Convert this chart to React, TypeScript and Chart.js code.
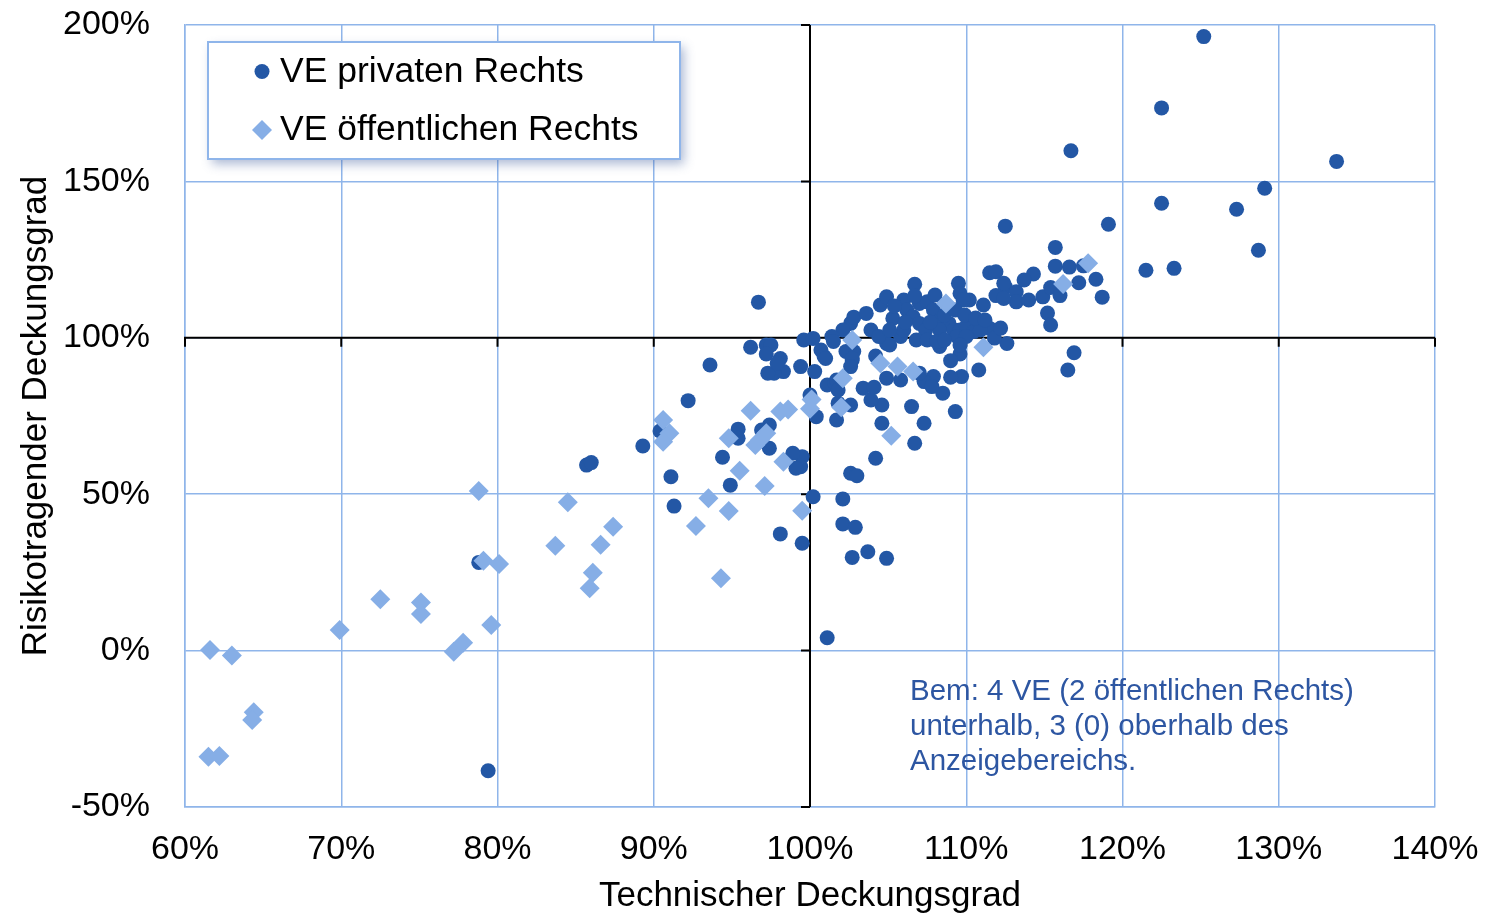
import React, { useEffect, useRef } from 'react';
import { Chart, registerables } from 'chart.js';

Chart.register(...registerables);

const FONT = '"Liberation Sans", Arial, Helvetica, sans-serif';
const GRID = '#8FB5EA';
const DARK = '#2357A5';
const LIGHT = '#86AEE6';
const NOTE = '#2D56A2';

// Axis ticks (percent values)
const xTicks = [60, 70, 80, 90, 100, 110, 120, 130, 140];
const yTicks = [-50, 0, 50, 100, 150, 200];

const xTitle = 'Technischer Deckungsgrad';
const yTitle = 'Risikotragender Deckungsgrad';
const seriesNames = ['VE privaten Rechts', 'VE öffentlichen Rechts'];
const noteLines = [
  'Bem: 4 VE (2 öffentlichen Rechts)',
  'unterhalb, 3 (0) oberhalb des',
  'Anzeigebereichs.',
];

// VE privaten Rechts: technischer Deckungsgrad (%)
const privX = [
  125.2, 122.5, 116.7, 133.7, 129.1, 122.5, 127.3, 119.1, 112.5, 128.7,
  115.7, 121.5, 123.3, 115.7, 116.6, 117.5, 114.3, 118.3, 117.2, 118.7,
  115.2, 115.4, 113.7, 112.5, 113.2, 113.2, 114.0, 114.9, 115.4, 116.0,
  111.5, 111.9, 112.4, 111.9, 112.4, 111.1, 111.5, 112.6, 116.9, 116.5,
  110.8, 109.5, 109.6, 110.2, 106.7, 109.6, 109.0, 109.7, 109.0, 109.3,
  108.5, 107.9, 107.3, 107.8, 106.7, 107.3, 106.5, 104.6, 104.6, 103.9,
  103.4, 104.1, 104.2, 101.7, 101.8, 102.6, 100.4, 100.0, 99.4, 100.3,
  100.9, 100.7, 101.1, 101.6, 102.7, 102.8, 102.6, 102.8, 102.1, 101.4,
  101.5, 99.6, 100.2, 103.6, 103.9, 104.5, 104.9, 106.0, 105.3, 104.9,
  105.1, 104.4, 105.8, 106.0, 106.2, 106.6, 107.0, 107.5, 107.9, 107.0,
  107.4, 106.8, 107.5, 108.3, 108.9, 108.3, 109.2, 109.6, 110.0, 110.5,
  110.9, 109.4, 110.0, 108.3, 109.8, 108.1, 101.0, 102.3, 102.7, 102.6,
  101.7, 101.8, 105.8, 104.9, 107.0, 104.2, 102.6, 103.0, 100.2, 102.1,
  102.1, 102.9, 102.7, 103.7, 104.9, 101.1, 99.5, 99.4, 99.5, 99.1,
  98.9, 98.1, 96.2, 97.2, 97.5, 97.2, 98.1, 98.3, 97.7, 97.3,
  97.9, 93.6, 92.2, 89.3, 90.4, 91.1, 91.3, 94.9, 94.4, 95.4,
  95.4, 96.9, 97.4, 97.4, 96.7, 85.7, 86.0, 78.8, 79.4,
  108.0, 108.6, 109.3, 109.9, 110.6, 111.2, 107.7, 106.7, 105.4, 106.1,
  105.1, 109.6, 108.6, 111.8, 112.2,
];
// VE privaten Rechts: risikotragender Deckungsgrad (%)
const privY = [
  196.3, 173.5, 159.8, 156.4, 147.8, 143.0, 141.1, 136.3, 135.7, 128.0,
  128.9, 121.6, 122.2, 122.9, 122.6, 123.0, 120.4, 118.7, 117.6, 113.0,
  107.9, 104.1, 118.5, 116.3, 114.7, 111.5, 112.1, 113.1, 116.1, 113.5,
  120.8, 121.1, 117.4, 113.5, 112.6, 110.5, 103.0, 98.2, 95.2, 89.7,
  89.7, 117.4, 114.2, 112.1, 117.1, 94.8, 92.7, 87.6, 87.4, 76.4,
  82.3, 87.6, 86.0, 84.4, 66.3, 72.7, 78.0, 72.7, 78.5, 80.1,
  83.9, 84.2, 94.2, 73.7, 79.1, 78.5, 74.8, 81.7, 90.8, 89.2,
  94.0, 96.1, 84.9, 85.5, 92.9, 95.6, 104.6, 106.6, 102.5, 100.4,
  98.8, 99.3, 99.8, 107.8, 102.5, 110.5, 113.1, 112.1, 106.2, 98.2,
  97.7, 100.4, 100.4, 102.5, 108.9, 106.7, 111.0, 111.5, 108.9, 104.6,
  102.5, 99.3, 99.3, 105.7, 104.6, 102.5, 102.5, 102.5, 103.6, 102.0,
  102.5, 100.4, 100.4, 97.2, 112.1, 98.8, 93.4, 95.6, 93.4, 90.8,
  86.5, 83.3, 86.5, 87.1, 88.7, 61.5, 56.7, 55.9, 49.2, 48.5,
  40.5, 39.4, 29.8, 31.6, 29.5, 4.1, 34.3, 58.8, 62.0, 58.3,
  63.1, 37.3, 97.0, 97.7, 97.7, 94.8, 93.4, 89.2, 88.7, 88.7,
  91.9, 91.3, 79.9, 65.4, 70.2, 55.6, 46.2, 52.9, 61.8, 70.8,
  67.9, 70.5, 72.1, 64.7, 111.4, 59.3, 60.1, 28.2, -38.4,
  113.7, 107.3, 108.9, 107.3, 106.3, 105.7, 105.0, 113.4, 110.2, 105.0,
  102.5, 97.7, 99.3, 99.9, 103.1,
];

// VE öffentlichen Rechts
const pubX = [
  117.8, 116.2, 111.1, 108.7, 106.6, 105.6, 104.5, 102.1, 102.7, 100.1,
  100.0, 102.0, 105.2, 99.5, 96.2, 98.1, 98.6, 96.5, 96.8, 97.2,
  94.8, 95.5, 98.3, 97.1, 93.5, 94.8, 92.7, 94.3, 90.6, 91.0,
  90.6, 78.8, 84.5, 87.4, 83.7, 86.6, 79.1, 80.1, 86.1, 85.9,
  72.5, 75.1, 75.1, 69.9, 79.6, 77.2, 77.8, 61.6, 63.0, 64.4,
  64.3, 61.5, 62.2,
];
const pubY = [
  123.8, 117.2, 97.0, 111.0, 89.2, 90.8, 91.9, 87.1, 99.3, 80.3,
  77.3, 77.8, 68.7, 44.7, 76.7, 76.4, 77.1, 65.7, 67.3, 69.5,
  67.9, 57.5, 60.4, 52.6, 48.7, 44.6, 39.8, 23.1, 73.7, 69.5,
  66.8, 51.0, 47.4, 39.6, 33.5, 33.8, 28.7, 27.7, 24.9, 19.9,
  16.4, 15.4, 11.7, 6.6, 8.2, -0.4, 2.5, 0.2, -1.6, -19.7,
  -22.2, -33.9, -33.7,
];

const overlayPlugin = {
  id: 'overlay',
  beforeDatasetsDraw(chart: any) {
    const { ctx, chartArea, scales } = chart;
    const xs = scales.x;
    const ys = scales.y;
    const x100 = xs.getPixelForValue(100);
    const y100 = ys.getPixelForValue(100);
    ctx.save();
    ctx.strokeStyle = '#000';
    ctx.lineWidth = 2;
    ctx.beginPath();
    ctx.moveTo(chartArea.left - 1, y100);
    ctx.lineTo(chartArea.right, y100);
    ctx.moveTo(x100, chartArea.top);
    ctx.lineTo(x100, chartArea.bottom);
    for (const v of xTicks) {
      const px = xs.getPixelForValue(v);
      ctx.moveTo(px, y100);
      ctx.lineTo(px, y100 + 9);
    }
    for (const v of yTicks) {
      const py = ys.getPixelForValue(v);
      ctx.moveTo(x100, py);
      ctx.lineTo(x100 - 9, py);
    }
    ctx.stroke();
    ctx.restore();
  },
  afterDraw(chart: any) {
    const { ctx, chartArea } = chart;
    // legend box
    const lx = chartArea.left + 23;
    const ly = chartArea.top + 17;
    const lw = 472;
    const lh = 117;
    ctx.save();
    ctx.shadowColor = 'rgba(70,100,160,0.45)';
    ctx.shadowBlur = 10;
    ctx.shadowOffsetX = 4;
    ctx.shadowOffsetY = 5;
    ctx.fillStyle = '#fff';
    ctx.fillRect(lx, ly, lw, lh);
    ctx.restore();
    ctx.save();
    ctx.strokeStyle = GRID;
    ctx.lineWidth = 2;
    ctx.strokeRect(lx, ly, lw, lh);
    // markers
    ctx.fillStyle = DARK;
    ctx.beginPath();
    ctx.arc(lx + 54, ly + 29.5, 7.5, 0, Math.PI * 2);
    ctx.fill();
    ctx.fillStyle = LIGHT;
    const dx = lx + 54;
    const dy = ly + 88;
    ctx.beginPath();
    ctx.moveTo(dx - 10, dy);
    ctx.lineTo(dx, dy - 10);
    ctx.lineTo(dx + 10, dy);
    ctx.lineTo(dx, dy + 10);
    ctx.closePath();
    ctx.fill();
    ctx.fillStyle = '#000';
    ctx.font = `35.5px ${FONT}`;
    ctx.textBaseline = 'alphabetic';
    ctx.textAlign = 'left';
    ctx.fillText(seriesNames[0], lx + 72, ly + 40);
    ctx.fillText(seriesNames[1], lx + 72, ly + 98);
    // note
    ctx.fillStyle = NOTE;
    ctx.font = `29.5px ${FONT}`;
    noteLines.forEach((t, i) => {
      ctx.fillText(t, 910, 700 + i * 35);
    });
    ctx.restore();
  },
};

export default function App() {
  const ref = useRef<HTMLCanvasElement | null>(null);
  useEffect(() => {
    if (!ref.current) return;
    const privData = privX.map((x, i) => ({ x, y: privY[i] }));
    const pubData = pubX.map((x, i) => ({ x, y: pubY[i] }));
    const chart = new Chart(ref.current, {
      type: 'scatter',
      data: {
        datasets: [
          {
            label: seriesNames[0],
            data: privData,
            pointStyle: 'circle',
            pointRadius: 7.5,
            pointBorderWidth: 0,
            backgroundColor: DARK,
            borderColor: DARK,
            order: 1,
          },
          {
            label: seriesNames[1],
            data: pubData,
            pointStyle: 'rectRot',
            pointRadius: 10,
            pointBorderWidth: 0,
            backgroundColor: LIGHT,
            borderColor: LIGHT,
            order: 0,
          },
        ],
      },
      options: {
        responsive: false,
        animation: false,
        events: [],
        layout: { padding: { left: 0, top: 25, right: 51, bottom: 0 } },
        plugins: {
          legend: { display: false },
          tooltip: { enabled: false },
          title: { display: false },
        },
        scales: {
          x: {
            type: 'linear',
            min: 60,
            max: 140,
            afterBuildTicks: (s: any) => {
              s.ticks = xTicks.map((v) => ({ value: v }));
            },
            ticks: {
              callback: (v: any) => `${v}%`,
              font: { size: 34, family: FONT },
              color: '#000',
              padding: 22,
              maxRotation: 0,
              autoSkip: false,
            },
            grid: { color: GRID, lineWidth: 1.5, drawTicks: false },
            border: { color: GRID, width: 1.5 },
            title: {
              display: true,
              text: xTitle,
              color: '#000',
              font: { size: 35, family: FONT },
              padding: { top: 0, bottom: 3 },
            },
            afterFit: (s: any) => {
              s.height = 113;
              s.paddingLeft = 0;
              s.paddingRight = 0;
            },
          },
          y: {
            type: 'linear',
            min: -50,
            max: 200,
            afterBuildTicks: (s: any) => {
              s.ticks = yTicks.map((v) => ({ value: v }));
            },
            ticks: {
              callback: (v: any) => `${v}%`,
              font: { size: 34, family: FONT },
              color: '#000',
              padding: 35,
              autoSkip: false,
            },
            grid: { color: GRID, lineWidth: 1.5, drawTicks: false },
            border: { color: GRID, width: 1.5 },
            title: {
              display: true,
              text: yTitle,
              color: '#000',
              font: { size: 35, family: FONT },
              padding: { top: 15, bottom: 0 },
            },
            afterFit: (s: any) => {
              s.width = 185;
              s.paddingTop = 0;
              s.paddingBottom = 0;
            },
          },
        },
      },
      plugins: [overlayPlugin],
    });
    return () => chart.destroy();
  }, []);
  return (
    <div style={{ position: 'absolute', left: 0, top: 0, width: 1486, height: 920, background: '#fff' }}>
      <canvas ref={ref} width={1486} height={920} style={{ display: 'block' }} />
    </div>
  );
}
